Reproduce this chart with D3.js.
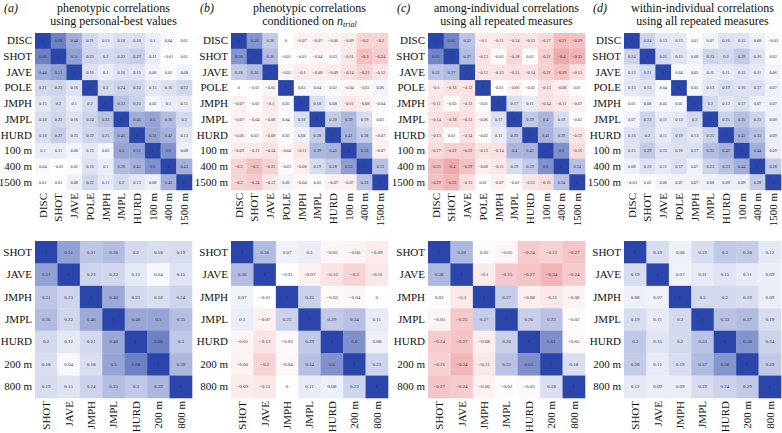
<!DOCTYPE html>
<html>
<head>
<meta charset="utf-8">
<script src="https://cdn.jsdelivr.net/npm/d3@7"></script>
<style>
  html, body { margin: 0; padding: 0; background: #fff; }
  svg { display: block; }
  text { font-family: "Liberation Serif", "DejaVu Serif", serif; }
</style>
</head>
<body>
<svg id="chart" width="782" height="433"></svg>
<script>
// ---------- data ----------
const topLabels = ["DISC", "SHOT", "JAVE", "POLE", "JMPH", "JMPL", "HURD", "100 m", "400 m", "1500 m"];
const bottomLabels = ["SHOT", "JAVE", "JMPH", "JMPL", "HURD", "200 m", "800 m"];

const panelLetters = ["(a)", "(b)", "(c)", "(d)"];
const titleLine1 = ["phenotypic correlations", "phenotypic correlations", "among-individual correlations", "within-individual correlations"];
const titleLine2 = ["using personal-best values", "conditioned on ", "using all repeated measures", "using all repeated measures"];

const topA = [
  [1, 0.68, 0.44, 0.21, 0.13, 0.18, 0.18, 0.1, 0.04, 0.01],
  [0.68, 1, 0.51, 0.23, 0.2, 0.22, 0.27, 0.11, -0.01, 0.01],
  [0.44, 0.51, 1, 0.16, 0.1, 0.16, 0.15, 0.06, 0.02, 0.08],
  [0.21, 0.23, 0.16, 1, 0.2, 0.24, 0.22, 0.13, 0.16, 0.22],
  [0.13, 0.2, 0.1, 0.2, 1, 0.33, 0.25, 0.05, 0.1, 0.11],
  [0.18, 0.22, 0.16, 0.24, 0.33, 1, 0.45, 0.5, 0.36, 0.2],
  [0.18, 0.27, 0.15, 0.22, 0.25, 0.45, 1, 0.51, 0.42, 0.13],
  [0.1, 0.11, 0.06, 0.13, 0.05, 0.5, 0.51, 1, 0.6, 0.08],
  [0.04, -0.01, 0.02, 0.16, 0.1, 0.36, 0.42, 0.6, 1, 0.43],
  [0.01, 0.01, 0.08, 0.22, 0.11, 0.2, 0.13, 0.08, 0.43, 1]
];
const topB = [
  [1, 0.58, 0.28, 0, -0.07, -0.07, -0.06, -0.09, -0.2, -0.2],
  [0.58, 1, 0.36, -0.01, -0.01, -0.04, 0.03, -0.11, -0.3, -0.24],
  [0.28, 0.36, 1, -0.05, -0.1, -0.08, -0.09, -0.14, -0.21, -0.12],
  [0, -0.01, -0.05, 1, 0.03, 0.04, 0.02, -0.04, -0.03, 0.06],
  [-0.07, -0.01, -0.1, 0.03, 1, 0.18, 0.08, -0.11, -0.08, -0.04],
  [-0.07, -0.04, -0.08, 0.04, 0.18, 1, 0.28, 0.39, 0.19, 0.02],
  [-0.06, 0.03, -0.09, 0.02, 0.08, 0.28, 1, 0.41, 0.28, -0.07],
  [-0.09, -0.11, -0.14, -0.04, -0.11, 0.39, 0.41, 1, 0.53, -0.07],
  [-0.2, -0.3, -0.21, -0.03, -0.08, 0.19, 0.28, 0.53, 1, 0.33],
  [-0.2, -0.24, -0.12, 0.06, -0.04, 0.02, -0.07, -0.07, 0.33, 1]
];
const topC = [
  [1, 0.66, 0.32, -0.1, -0.11, -0.14, -0.13, -0.17, -0.31, -0.29],
  [0.66, 1, 0.37, -0.13, -0.03, -0.18, 0.01, -0.22, -0.4, -0.35],
  [0.32, 0.37, 1, -0.12, -0.13, -0.15, -0.14, -0.22, -0.29, -0.15],
  [-0.1, -0.13, -0.12, 1, -0.01, -0.06, -0.02, -0.13, -0.08, 0.01],
  [-0.11, -0.03, -0.13, -0.01, 1, 0.17, 0.11, -0.14, -0.11, -0.07],
  [-0.14, -0.18, -0.15, -0.06, 0.17, 1, 0.29, 0.4, 0.19, -0.02],
  [-0.13, 0.01, -0.14, -0.02, 0.11, 0.29, 1, 0.41, 0.29, -0.12],
  [-0.17, -0.22, -0.22, -0.13, -0.14, 0.4, 0.41, 1, 0.6, -0.16],
  [-0.31, -0.4, -0.29, -0.08, -0.11, 0.19, 0.29, 0.6, 1, 0.34],
  [-0.29, -0.35, -0.15, 0.01, -0.07, -0.02, -0.12, -0.16, 0.34, 1]
];
const topD = [
  [1, 0.24, 0.13, 0.13, 0.01, 0.07, 0.16, 0.15, 0.08, -0.03],
  [0.24, 1, 0.21, 0.15, 0.08, 0.23, 0.2, 0.29, 0.16, 0.02],
  [0.13, 0.21, 1, 0.04, 0.05, 0.11, 0.11, 0.15, 0.11, 0.06],
  [0.13, 0.15, 0.04, 1, 0.05, 0.13, 0.19, 0.16, 0.17, 0.07],
  [0.01, 0.08, 0.05, 0.05, 1, 0.2, 0.13, 0.17, 0.07, 0.07],
  [0.07, 0.23, 0.11, 0.13, 0.2, 1, 0.25, 0.35, 0.23, 0.08],
  [0.16, 0.2, 0.11, 0.19, 0.13, 0.25, 1, 0.42, 0.33, 0.09],
  [0.15, 0.29, 0.15, 0.16, 0.17, 0.35, 0.42, 1, 0.44, 0.09],
  [0.08, 0.16, 0.11, 0.17, 0.07, 0.23, 0.33, 0.44, 1, 0.28],
  [-0.03, 0.02, 0.06, 0.07, 0.07, 0.08, 0.09, 0.09, 0.28, 1]
];
const bottomA = [
  [1, 0.51, 0.31, 0.36, 0.2, 0.18, 0.19],
  [0.51, 1, 0.23, 0.22, 0.12, 0.04, 0.15],
  [0.31, 0.23, 1, 0.46, 0.21, 0.18, 0.24],
  [0.36, 0.22, 0.46, 1, 0.48, 0.5, 0.35],
  [0.2, 0.12, 0.21, 0.48, 1, 0.68, 0.3],
  [0.18, 0.04, 0.18, 0.5, 0.68, 1, 0.39],
  [0.19, 0.15, 0.24, 0.35, 0.3, 0.39, 1]
];
const bottomB = [
  [1, 0.36, 0.07, 0.1, -0.05, -0.06, -0.09],
  [0.36, 1, -0.01, -0.07, -0.13, -0.2, -0.11],
  [0.07, -0.01, 1, 0.25, -0.03, -0.04, 0],
  [0.1, -0.07, 0.25, 1, 0.29, 0.34, 0.11],
  [-0.05, -0.13, -0.03, 0.29, 1, 0.6, 0.08],
  [-0.06, -0.2, -0.04, 0.34, 0.6, 1, 0.23],
  [-0.09, -0.11, 0, 0.11, 0.08, 0.23, 1]
];
const bottomC = [
  [1, 0.38, 0.02, -0.05, -0.24, -0.21, -0.27],
  [0.38, 1, -0.1, -0.25, -0.27, -0.34, -0.24],
  [0.02, -0.1, 1, 0.27, -0.08, -0.11, -0.06],
  [-0.05, -0.25, 0.27, 1, 0.26, 0.33, -0.02],
  [-0.24, -0.27, -0.08, 0.26, 1, 0.61, -0.03],
  [-0.21, -0.34, -0.11, 0.33, 0.61, 1, 0.18],
  [-0.27, -0.24, -0.06, -0.02, -0.03, 0.18, 1]
];
const bottomD = [
  [1, 0.19, 0.08, 0.19, 0.3, 0.28, 0.12],
  [0.19, 1, 0.07, 0.11, 0.15, 0.11, 0.09],
  [0.08, 0.07, 1, 0.2, 0.2, 0.19, 0.09],
  [0.19, 0.11, 0.2, 1, 0.33, 0.37, 0.19],
  [0.3, 0.15, 0.2, 0.33, 1, 0.58, 0.24],
  [0.28, 0.11, 0.19, 0.37, 0.58, 1, 0.29],
  [0.12, 0.09, 0.09, 0.19, 0.24, 0.29, 1]
];

// ---------- layout ----------
const svg = d3.select("#chart");
const panelX = [35, 231, 428, 624];
const matSize = 157;
const topY = 33, bottomY = 241;

const color = d3.scaleLinear()
  .domain([-1, 0, 1])
  .range(["rgb(212,40,45)", "#ffffff", "rgb(42,70,170)"])
  .clamp(true);

const fmt = v => String(v).replace("-", "\u2212");

function drawMatrix(x0, y0, labels, mat, cellFont) {
  const g = svg.append("g").attr("transform", `translate(${x0},${y0})`);
  const x = d3.scaleBand().domain(labels).range([0, matSize]).padding(0);
  const y = d3.scaleBand().domain(labels).range([0, matSize]).padding(0);
  const cells = [];
  mat.forEach((row, i) => row.forEach((v, j) => cells.push({ r: labels[i], c: labels[j], v })));

  g.selectAll("rect.cell").data(cells).join("rect")
    .attr("class", "cell")
    .attr("x", d => x(d.c))
    .attr("y", d => y(d.r))
    .attr("width", x.bandwidth() + 0.3)
    .attr("height", y.bandwidth() + 0.3)
    .attr("fill", d => color(d.v));

  g.selectAll("text.val").data(cells).join("text")
    .attr("class", "val")
    .attr("x", d => x(d.c) + x.bandwidth() / 2)
    .attr("y", d => y(d.r) + y.bandwidth() / 2)
    .attr("text-anchor", "middle")
    .attr("dominant-baseline", "central")
    .attr("font-size", cellFont)
    .attr("fill", "#333")
    .text(d => fmt(d.v));

  const yAxis = g.append("g")
    .call(d3.axisLeft(y).tickSize(0).tickPadding(3));
  yAxis.attr("font-family", null);
  yAxis.select(".domain").remove();
  yAxis.selectAll("text")
    .attr("font-family", "Liberation Serif, serif")
    .attr("font-size", 11)
    .attr("fill", "#111");

  const xAxis = g.append("g")
    .attr("transform", `translate(0,${matSize})`)
    .call(d3.axisBottom(x).tickSize(0).tickPadding(3));
  xAxis.attr("font-family", null);
  xAxis.select(".domain").remove();
  xAxis.selectAll("text")
    .attr("font-family", "Liberation Serif, serif")
    .attr("font-size", 11)
    .attr("fill", "#111")
    .attr("text-anchor", "end")
    .attr("dy", "0.35em")
    .attr("transform", "rotate(-90)")
    .attr("x", -3)
    .attr("y", 0);
}

const topMats = [topA, topB, topC, topD];
const bottomMats = [bottomA, bottomB, bottomC, bottomD];
topMats.forEach((m, k) => drawMatrix(panelX[k], topY, topLabels, m, 4.3));
bottomMats.forEach((m, k) => drawMatrix(panelX[k], bottomY, bottomLabels, m, 5));

// ---------- titles ----------
panelLetters.forEach((lab, k) => {
  const cx = panelX[k] + matSize / 2;
  svg.append("text")
    .attr("x", panelX[k] - 31)
    .attr("y", 12)
    .attr("font-size", 12)
    .attr("font-style", "italic")
    .attr("fill", "#111")
    .text(lab);
  svg.append("text")
    .attr("x", cx)
    .attr("y", 12)
    .attr("text-anchor", "middle")
    .attr("font-size", 12)
    .attr("fill", "#111")
    .text(titleLine1[k]);
  const t2 = svg.append("text")
    .attr("x", cx)
    .attr("y", 25)
    .attr("text-anchor", "middle")
    .attr("font-size", 12)
    .attr("fill", "#111")
    .text(titleLine2[k]);
  if (k === 1) {
    t2.append("tspan").attr("font-style", "italic").text("n");
    t2.append("tspan").attr("font-style", "italic").attr("font-size", 8).attr("dy", 2).text("trial");
  }
});
</script>
</body>
</html>
